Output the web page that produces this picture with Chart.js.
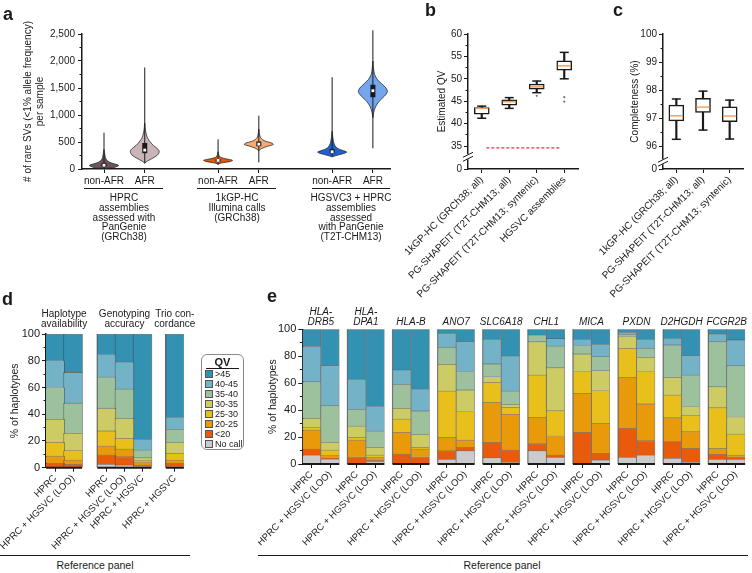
<!DOCTYPE html>
<html lang="en">
<head>
<meta charset="utf-8">
<title>Rare SVs, QV and haplotype quality</title>
<script src="https://cdn.jsdelivr.net/npm/chart.js@4.4.1/dist/chart.umd.min.js"></script>
<style>
  body { margin: 0; background: #fff; }
  #fig { position: relative; width: 752px; height: 573px; overflow: hidden;
         font-family: "Liberation Sans", Arial, sans-serif; color: #1a1a1a; }
  #fig canvas { position: absolute; }
  .plab { position: absolute; font-size: 18px; font-weight: bold; line-height: 18px; }
  .grp { position: absolute; height: 0; border-top: 1.3px solid #1a1a1a; }
  .gtxt { position: absolute; width: 120px; text-align: center; font-size: 10px; line-height: 9.8px; }
  .refp { position: absolute; font-size: 10.5px; text-align: center; }
  #legend { position: absolute; left: 201px; top: 354px; width: 41px; height: 94px;
            border: 1px solid #8a8a8a; border-radius: 6px; font-size: 9px; }
  #legend .ttl { font-weight: bold; font-size: 11px; text-align: center; margin: 1px 4px 0;
                 border-bottom: 1.3px solid #1a1a1a; line-height: 12px; }
  #legend .row { height: 10px; line-height: 10px; margin-left: 3px; white-space: nowrap; }
  #legend .sw { display: inline-block; width: 6px; height: 6px; border: 1px solid #555;
                margin-right: 2px; vertical-align: -1px; }
</style>
</head>
<body>
<div id="fig">
  <canvas id="chartA" width="395" height="275" style="left:0;top:0"></canvas>
  <canvas id="chartB" width="210" height="300" style="left:380px;top:0"></canvas>
  <canvas id="chartC" width="182" height="300" style="left:570px;top:0"></canvas>
  <canvas id="chartD" width="200" height="275" style="left:0;top:280px"></canvas>
  <canvas id="chartE" width="494" height="275" style="left:258px;top:280px"></canvas>

  <div class="plab" style="left:3px;top:5px">a</div>
  <div class="plab" style="left:425px;top:1px">b</div>
  <div class="plab" style="left:613px;top:1px">c</div>
  <div class="plab" style="left:2px;top:290px">d</div>
  <div class="plab" style="left:267px;top:287px">e</div>

  <div class="grp" style="left:84px;top:188px;width:79px"></div>
  <div class="grp" style="left:197px;top:188px;width:79px"></div>
  <div class="grp" style="left:312px;top:188px;width:78px"></div>
  <div class="gtxt" style="left:64px;top:193px">HPRC<br>assemblies<br>assessed with<br>PanGenie<br>(GRCh38)</div>
  <div class="gtxt" style="left:177px;top:193px">1kGP-HC<br>Illumina calls<br>(GRCh38)</div>
  <div class="gtxt" style="left:291px;top:193px">HGSVC3 + HPRC<br>assemblies<br>assessed<br>with PanGenie<br>(T2T-CHM13)</div>

  <div id="legend"></div>

  <div class="grp" style="left:0;top:555px;width:190px"></div>
  <div class="refp" style="left:0;top:559px;width:190px">Reference panel</div>
  <div class="grp" style="left:258px;top:555px;width:490px"></div>
  <div class="refp" style="left:432px;top:559px;width:140px">Reference panel</div>
</div>

<script>
// --- DATA: panel a (rare SVs per sample) ---
const violinLabels = ['non-AFR', 'AFR', 'non-AFR', 'AFR', 'non-AFR', 'AFR'];
const svMin    = [0, 105, 74, 123, 228, 383];
const svQ1     = [40, 290, 135, 420, 290, 1330];
const svMedian = [70, 350, 160, 460, 320, 1450];
const svQ3     = [110, 480, 185, 510, 370, 1560];
const svMax    = [672, 1880, 549, 987, 1700, 2570];
// violin outlines: [rare SVs, relative width]
const densHprcNonAfr  = [[15, 0], [25, 0.6], [50, 0.95], [70, 1], [95, 0.7], [125, 0.38], [160, 0.2], [210, 0.1], [280, 0.05], [360, 0]];
const densHprcAfr     = [[110, 0], [150, 0.2], [200, 0.55], [260, 0.88], [320, 1], [370, 0.9], [430, 0.62], [500, 0.38], [570, 0.2], [650, 0.1], [740, 0.04], [850, 0]];
const densKgpNonAfr   = [[95, 0], [115, 0.3], [140, 0.85], [160, 1], [180, 0.7], [200, 0.35], [225, 0.12], [270, 0.04], [320, 0]];
const densKgpAfr      = [[340, 0], [380, 0.2], [420, 0.6], [455, 1], [480, 0.9], [510, 0.5], [545, 0.25], [590, 0.1], [660, 0.04], [740, 0]];
const densHgsvcNonAfr = [[225, 0], [255, 0.35], [290, 0.85], [315, 1], [345, 0.7], [385, 0.35], [440, 0.18], [510, 0.09], [600, 0.04], [700, 0]];
const densHgsvcAfr    = [[950, 0], [1050, 0.06], [1150, 0.18], [1250, 0.42], [1350, 0.8], [1430, 1], [1500, 0.9], [1580, 0.6], [1660, 0.3], [1750, 0.12], [1850, 0.05], [2000, 0]];
const yTicksA = [0, 500, 1000, 1500, 2000, 2500];
const yMinorA = [250, 750, 1250, 1750, 2250];

// --- DATA: panel b (estimated QV) ---
const catsB = ['1kGP-HC (GRCh38; all)', 'PG-SHAPEIT (T2T-CHM13; all)', 'PG-SHAPEIT (T2T-CHM13; syntenic)', 'HGSVC assemblies'];
const qvMin = [41.2, 43.4, 46.9, 50.0];
const qvQ1  = [42.1, 44.1, 47.7, 51.9];
const qvMed = [43.4, 44.9, 48.2, 52.9];
const qvQ3  = [43.6, 45.3, 48.8, 54.0];
const qvMax = [43.9, 45.8, 49.5, 55.9];
const qvOutliers = [{ x: catsB[2], y: 46.2 }, { x: catsB[3], y: 45.9 }, { x: catsB[3], y: 44.9 }];
const qvCutoff = 34.6;
const yMinB = 29.87;   // bottom of the broken axis, labelled "0"
const yTicksB = [yMinB, 35, 40, 45, 50, 55, 60];
const yMinorB = [37.5, 42.5, 47.5, 52.5, 57.5];

// --- DATA: panel c (completeness) ---
const catsC = ['1kGP-HC (GRCh38; all)', 'PG-SHAPEIT (T2T-CHM13; all)', 'PG-SHAPEIT (T2T-CHM13; syntenic)'];
const compMin = [96.24, 96.57, 96.25];
const compQ1  = [96.90, 97.20, 96.87];
const compMed = [97.08, 97.39, 97.07];
const compQ3  = [97.46, 97.70, 97.40];
const compMax = [97.68, 97.96, 97.64];
const yMinC = 95.18;
const yTicksC = [yMinC, 96, 97, 98, 99, 100];
const yMinorC = [96.5, 97.5, 98.5, 99.5];

// --- DATA: QV classes (panels d, e), bottom to top ---
const qvClasses = ['No call', '<20', '20-25', '25-30', '30-35', '35-40', '40-45', '>45'];
const qvColors  = ['#cbcbcb', '#e95b0b', '#e89a0b', '#e9bf1c', '#cdcb63', '#9dc19d', '#74b2c8', '#3391b1'];
const yTicksQV = [0, 20, 40, 60, 80, 100];
const yMinorQV = [10, 30, 50, 70, 90];

// panel d
const dGroups = [['Haplotype', 'availability'], ['Genotyping', 'accuracy'], ['Trio con-', 'cordance']];
const dLabels = ['HPRC', 'HPRC + HGSVC (LOO)', 'HPRC', 'HPRC + HGSVC (LOO)', 'HPRC + HGSVC', 'HPRC + HGSVC'];
const dNoCall = [0.5, 0.5, 2.5, 2, 1, 0.75];
const dLt20   = [2.75, 2, 7, 6.25, 1, 2.5];
const d20to25 = [5.5, 3.25, 6.75, 5.75, 1.75, 2.5];
const d25to30 = [10.25, 7, 11.25, 8, 1.5, 5];
const d30to35 = [17.25, 13, 17, 15, 2.25, 8];
const d35to40 = [23.75, 22.5, 23.25, 21.75, 5.75, 10];
const d40to45 = [20, 23, 16.75, 20.25, 8, 9];
const dGt45   = [20, 28.75, 15.5, 21, 78.75, 62.25];

// panel e (two bars per gene: HPRC, HPRC + HGSVC (LOO))
const eGenes = [['HLA-', 'DRB5'], ['HLA-', 'DPA1'], 'HLA-B', 'ANO7', 'SLC6A18', 'CHL1', 'MICA', 'PXDN', 'D2HGDH', 'FCGR2B'];
const ePanels = ['HPRC', 'HPRC + HGSVC (LOO)'];
const eNoCall = [6.7, 3.7, 0, 1.7, 0, 0, 3.5, 9.9, 4.7, 1.2, 9.9, 5.0, 0, 3.0, 5.0, 6.7, 4.2, 1.2, 3.5, 3.5];
const eLt20   = [4.4, 0.5, 5.4, 1.3, 7.4, 5.4, 6.2, 2.5, 11.4, 9.2, 5.0, 1.7, 23.5, 4.9, 21.5, 10.6, 12.4, 10.4, 3.7, 1.9];
const e20to25 = [14.1, 2.0, 12.4, 1.7, 16.1, 5.7, 10.1, 5.4, 29.7, 26.5, 19.8, 14.3, 29.0, 22.3, 37.9, 27.3, 17.8, 12.4, 4.4, 1.3];
const e25to30 = [1.8, 4.2, 2.0, 2.0, 9.9, 1.3, 34.4, 21.1, 14.8, 5.2, 31.4, 18.6, 16.1, 24.3, 21.5, 24.0, 16.8, 11.9, 30.2, 15.6];
const e30to35 = [6.9, 5.7, 8.4, 5.7, 7.9, 9.6, 19.8, 16.1, 4.3, 2.2, 24.7, 31.9, 13.1, 14.8, 8.7, 10.6, 13.2, 6.7, 15.6, 12.8];
const e35to40 = [27.2, 27.2, 12.4, 12.1, 17.9, 17.4, 12.6, 13.6, 9.4, 9.9, 5.0, 16.1, 6.2, 10.4, 1.7, 6.7, 24.0, 23.5, 33.4, 37.9];
const e40to45 = [26.3, 29.7, 22.3, 18.1, 10.6, 16.3, 10.4, 22.2, 18.3, 26.0, 0, 5.7, 4.7, 9.2, 1.5, 6.7, 4.9, 14.3, 5.7, 19.1];
const eGt45   = [12.6, 27.0, 37.1, 57.4, 30.2, 44.3, 3.0, 9.2, 7.4, 19.8, 4.2, 6.7, 7.4, 11.1, 2.2, 7.4, 6.7, 19.6, 3.5, 7.9];

// --- SETUP ---
Chart.defaults.font.family = '"Liberation Sans", Arial, sans-serif';
Chart.defaults.font.size = 10;
Chart.defaults.color = '#1a1a1a';
Chart.defaults.animation = false;
Chart.defaults.plugins.legend.display = false;
Chart.defaults.plugins.tooltip.enabled = false;

const INK = '#1a1a1a';
const el = id => document.getElementById(id);
const fixWidth = w => scale => { scale.width = w; };
const fixHeight = h => scale => { scale.height = h; };
const setTicks = vals => scale => { scale.ticks = vals.map(v => ({ value: v })); };
const axisGrid = { drawOnChartArea: false, offset: false, tickLength: 4, color: INK };
const axisBorder = { color: INK, width: 1.5 };

// zero-width companion axis that only draws the short minor ticks
const minorAxis = (min, max, vals) => ({
  position: 'left', weight: -1, min, max, afterBuildTicks: setTicks(vals), afterFit: fixWidth(0),
  ticks: { display: false }, grid: { drawOnChartArea: false, tickLength: 2.5, color: INK },
  border: { display: false }
});

// "//" mark on a broken y axis, plus the "0" at its foot
const axisBreak = {
  id: 'axisBreak',
  afterDraw(chart, args, opts) {
    if (opts.at == null) return;
    const yScale = chart.scales.y;
    const y = yScale.getPixelForValue(opts.at);
    const x = chart.chartArea.left;
    const ctx = chart.ctx;
    ctx.save();
    ctx.fillStyle = '#fff';
    ctx.fillRect(x - 5, y - 2.5, 10, 5);
    ctx.strokeStyle = INK;
    ctx.lineWidth = 1;
    ctx.beginPath();
    [-2, 2].forEach(d => { ctx.moveTo(x - 5, y + d + 2.5); ctx.lineTo(x + 5, y + d - 2.5); });
    ctx.stroke();
    ctx.fillStyle = INK;
    ctx.font = '10px "Liberation Sans", Arial, sans-serif';
    ctx.textAlign = 'right';
    ctx.textBaseline = 'middle';
    ctx.fillText('0', x - 6, yScale.getPixelForValue(yScale.min));
    ctx.restore();
  }
};

// --- 1. PANEL A: violins ---
const VIOLIN_HALF = 0.356;              // half width of a violin, x units
const xPosA = [1, 2, 3.8, 4.8, 6.6, 7.6];
const violinColors = ['#6e555a', '#c9b4b7', '#e0570f', '#f5ab74', '#1d62d3', '#74a6ee'];
const densities = [densHprcNonAfr, densHprcAfr, densKgpNonAfr, densKgpAfr, densHgsvcNonAfr, densHgsvcAfr];

function outline(pos, dens) {
  const right = dens.map(([y, w]) => ({ x: pos + w * VIOLIN_HALF, y }));
  const left = dens.slice(0, -1).reverse().map(([y, w]) => ({ x: pos - w * VIOLIN_HALF, y }));
  return right.concat(left);
}
function segments(xs, lo, hi) {
  const pts = [];
  xs.forEach((x, i) => pts.push({ x, y: lo[i] }, { x, y: hi[i] }, { x, y: null }));
  return pts;
}

const aSets = densities.map((d, i) => ({
  data: outline(xPosA[i], d), showLine: true, fill: 'shape', tension: 0.3,
  backgroundColor: violinColors[i], borderColor: '#2b2b2b', borderWidth: 0.8, pointRadius: 0, order: 4
}));
aSets.push({ data: segments(xPosA, svMin, svMax), showLine: true, borderColor: INK, borderWidth: 1,
             pointRadius: 0, order: 3, clip: false });
aSets.push({ data: segments(xPosA, svQ1, svQ3), showLine: true, borderColor: INK, borderWidth: 5,
             pointRadius: 0, order: 2 });
aSets.push({ data: xPosA.map((x, i) => ({ x, y: svMedian[i] })), pointStyle: 'rect', pointRadius: 2,
             backgroundColor: '#fff', borderWidth: 0, order: 1 });

new Chart(el('chartA'), {
  type: 'scatter',
  data: { datasets: aSets },
  options: {
    responsive: false,
    layout: { padding: { top: 34, right: 5 } },
    scales: {
      x: { type: 'linear', min: 0.46, max: 8.02, afterBuildTicks: setTicks(xPosA), afterFit: fixHeight(106),
           ticks: { autoSkip: false, maxRotation: 0, padding: 2, callback: (v, i) => violinLabels[i] },
           grid: axisGrid, border: axisBorder },
      y: { min: 0, max: 2500, afterBuildTicks: setTicks(yTicksA), afterFit: fixWidth(82),
           ticks: { autoSkip: false, padding: 3, callback: v => v.toLocaleString('en-US') },
           grid: axisGrid, border: axisBorder,
           title: { display: true, text: ['# of rare SVs (<1% allele frequency)', 'per sample'],
                    font: { size: 10, lineHeight: 1.2 }, padding: { top: 22, bottom: 0 } } },
      ym: minorAxis(0, 2500, yMinorA)
    }
  }
});

// --- 2. BOX PLOTS (panels b, c) ---
function boxSets(mins, q1s, meds, q3s, maxs, outliers, boxW) {
  return [
    { type: 'line', data: meds, showLine: false, pointStyle: 'line', pointRadius: boxW / 2 - 1,
      pointBorderColor: '#f5a25e', pointBorderWidth: 1.5, order: 1 },
    { type: 'line', data: mins, showLine: false, pointStyle: 'line', pointRadius: 4.5,
      pointBorderColor: INK, pointBorderWidth: 1.5, order: 2 },
    { type: 'line', data: maxs, showLine: false, pointStyle: 'line', pointRadius: 4.5,
      pointBorderColor: INK, pointBorderWidth: 1.5, order: 2 },
    { type: 'line', data: outliers, showLine: false, pointRadius: 1.1,
      pointBackgroundColor: '#777', pointBorderWidth: 0, order: 2 },
    { type: 'bar', data: q1s.map((q, i) => [q, q3s[i]]), barThickness: boxW, backgroundColor: '#fff',
      borderColor: INK, borderWidth: 1.5, borderSkipped: false, grouped: false, order: 5 },
    { type: 'bar', data: mins.map((m, i) => [m, maxs[i]]), barThickness: 1.5, backgroundColor: INK,
      grouped: false, order: 6 }
  ];
}

const bSets = boxSets(qvMin, qvQ1, qvMed, qvQ3, qvMax, qvOutliers, 15);
bSets.push({ type: 'line', xAxisID: 'xl', data: [{ x: 0, y: qvCutoff }, { x: 1, y: qvCutoff }],
             borderColor: '#e8353a', borderWidth: 1.2, borderDash: [3, 2], pointRadius: 0, order: 0 });

// the foot of a broken axis gets its "0" from axisBreak
const brokenLabel = (v, i) => i > 0 ? String(v) : '';

new Chart(el('chartB'), {
  type: 'bar',
  data: { labels: catsB, datasets: bSets },
  options: {
    responsive: false,
    layout: { padding: { top: 34, right: 12 } },
    scales: {
      x: { afterFit: fixHeight(131), ticks: { autoSkip: false, minRotation: 45, maxRotation: 45, padding: 1 },
           grid: axisGrid, border: axisBorder },
      xl: { type: 'linear', display: false, min: 0, max: 1 },
      y: { min: yMinB, max: 60, afterBuildTicks: setTicks(yTicksB), afterFit: fixWidth(88),
           ticks: { autoSkip: false, padding: 2, callback: brokenLabel },
           grid: axisGrid, border: axisBorder,
           title: { display: true, text: 'Estimated QV', font: { size: 10 }, padding: { top: 56, bottom: 0 } } },
      ym: minorAxis(yMinB, 60, yMinorB)
    },
    plugins: { axisBreak: { at: 32.6 } }
  },
  plugins: [axisBreak]
});

new Chart(el('chartC'), {
  type: 'bar',
  data: { labels: catsC, datasets: boxSets(compMin, compQ1, compMed, compQ3, compMax, [], 15) },
  options: {
    responsive: false,
    layout: { padding: { top: 34, right: 9 } },
    scales: {
      x: { afterFit: fixHeight(131), ticks: { autoSkip: false, minRotation: 45, maxRotation: 45, padding: 1 },
           grid: axisGrid, border: axisBorder },
      y: { min: yMinC, max: 100, afterBuildTicks: setTicks(yTicksC), afterFit: fixWidth(93),
           ticks: { autoSkip: false, padding: 2, callback: brokenLabel },
           grid: axisGrid, border: axisBorder,
           title: { display: true, text: 'Completeness (%)', font: { size: 10 }, padding: { top: 59, bottom: 0 } } },
      ym: minorAxis(yMinC, 100, yMinorC)
    },
    plugins: { axisBreak: { at: 95.44 } }
  },
  plugins: [axisBreak]
});

// --- 3. STACKED QV BARS (panels d, e) ---
function qvPanel(id, cfg) {
  const { pos, labels, values, groups, titles, titleFont, titlePad, barW, yWidth, topH, bottomH, padRight,
          xMin, xMax, edges } = cfg;
  const sets = qvClasses.map((name, k) => ({
    type: 'bar', label: name, stack: 'qv', order: 5,
    data: pos.map((x, i) => ({ x, y: values[k][i] })),
    backgroundColor: qvColors[k], borderColor: 'rgba(35,35,35,0.55)', borderWidth: 0.8, barThickness: barW
  }));
  // bottom axis line, one piece per group
  const base = [];
  groups.forEach(([a, b]) => base.push({ x: a, y: 0 }, { x: b, y: 0 }, { x: b, y: null }));
  sets.push({ type: 'line', stack: 'axis', data: base, borderColor: INK, borderWidth: 2,
              pointRadius: 0, clip: false, order: 0 });
  // grey left edge of groups without y axis
  const side = [];
  edges.forEach(x => side.push({ x, y: 0 }, { x, y: 100 }, { x, y: null }));
  sets.push({ type: 'line', stack: 'edge', data: side, borderColor: 'rgba(70,70,70,0.55)', borderWidth: 1.2,
              pointRadius: 0, clip: false, order: 1 });
  const centers = groups.map(([a, b]) => (a + b) / 2);

  return new Chart(el(id), {
    type: 'bar',
    data: { datasets: sets },
    options: {
      responsive: false,
      layout: { padding: { right: padRight } },
      scales: {
        x: { type: 'linear', stacked: true, offset: false, min: xMin, max: xMax,
             afterBuildTicks: setTicks(pos), afterFit: fixHeight(bottomH),
             ticks: { autoSkip: false, minRotation: 45, maxRotation: 45, padding: 1, font: { size: 9.5 },
                      callback: (v, i) => labels[i] },
             grid: axisGrid, border: { display: false } },
        xt: { type: 'linear', position: 'top', offset: false, min: xMin, max: xMax,
              afterBuildTicks: setTicks(centers), afterFit: fixHeight(topH),
              ticks: { autoSkip: false, maxRotation: 0, padding: titlePad, font: titleFont,
                       callback: (v, i) => titles[i] },
              grid: { display: false, drawTicks: false }, border: { display: false } },
        y: { stacked: true, min: 0, max: 100, afterBuildTicks: setTicks(yTicksQV), afterFit: fixWidth(yWidth),
             ticks: { autoSkip: false, padding: 2, font: { size: 11 } },
             grid: axisGrid, border: axisBorder,
             title: { display: true, text: '% of haplotypes', font: { size: 10.5 }, padding: { top: 8.5, bottom: 0 } } },
        ym: minorAxis(0, 100, yMinorQV)
      }
    }
  });
}

// bar slots in units of one bar width
const posD = [0, 1, 2.84, 3.84, 4.84, 6.63];
qvPanel('chartD', {
  pos: posD, labels: dLabels,
  values: [dNoCall, dLt20, d20to25, d25to30, d30to35, d35to40, d40to45, dGt45],
  groups: [[-0.5, 1.5], [2.34, 5.34], [6.13, 7.13]], edges: [2.34, 6.13],
  titles: dGroups, titleFont: { size: 10, lineHeight: 1.07 }, titlePad: 4,
  barW: 19, yWidth: 46, topH: 54, bottomH: 87.3, padRight: 9, xMin: -0.5, xMax: 7.13
});

const E_PERIOD = 2.438;
const posE = [], labelsE = [], groupsE = [], edgesE = [];
eGenes.forEach((g, i) => {
  posE.push(i * E_PERIOD, i * E_PERIOD + 1);
  labelsE.push(...ePanels);
  groupsE.push([i * E_PERIOD - 0.5, i * E_PERIOD + 1.5]);
  if (i > 0) edgesE.push(i * E_PERIOD - 0.5);
});
qvPanel('chartE', {
  pos: posE, labels: labelsE,
  values: [eNoCall, eLt20, e20to25, e25to30, e30to35, e35to40, e40to45, eGt45],
  groups: groupsE, edges: edgesE,
  titles: eGenes, titleFont: { size: 10, style: 'italic', lineHeight: 1.0 }, titlePad: 2,
  barW: 18.5, yWidth: 44.3, topH: 49.3, bottomH: 91, padRight: 6.8,
  xMin: -0.5, xMax: 9 * E_PERIOD + 1.5
});

// --- 4. QV LEGEND ---
const legend = el('legend');
legend.innerHTML = '<div class="ttl">QV</div>' + qvClasses.map((name, k) =>
  `<div class="row"><span class="sw" style="background:${qvColors[k]}"></span>${name.replace('<', '&lt;')}</div>`
).reverse().join('');
</script>
</body>
</html>
